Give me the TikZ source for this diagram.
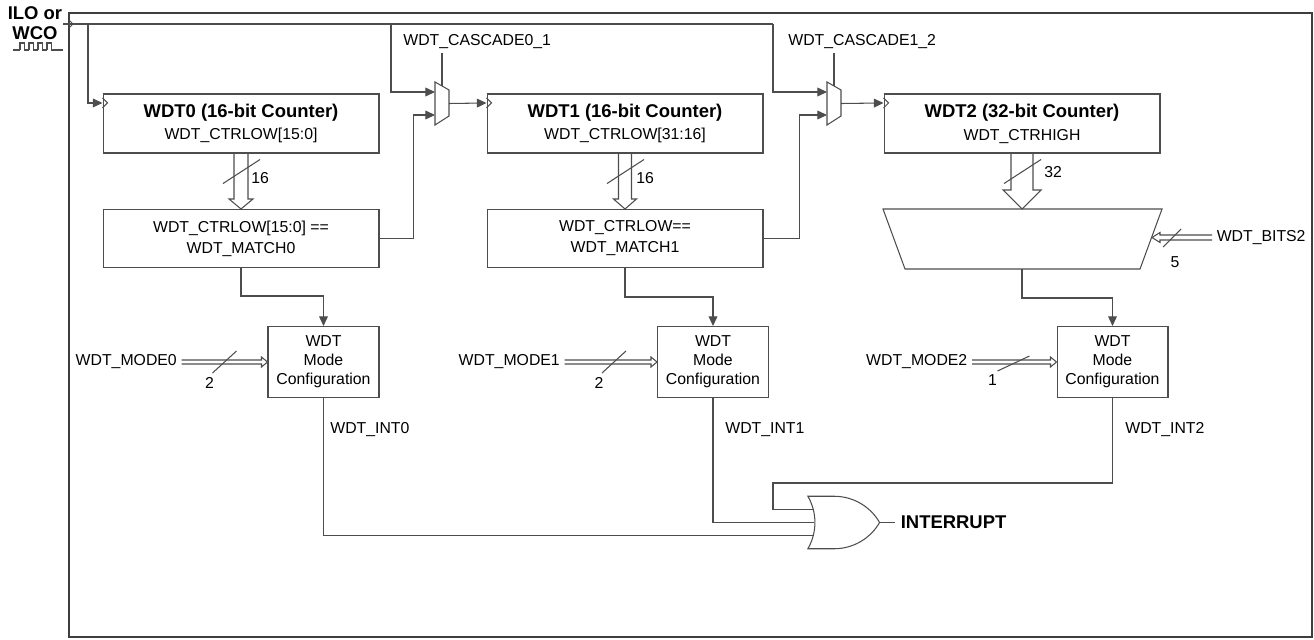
\documentclass[tikz,border=0pt]{standalone}
\usepackage{fontspec}
\setmainfont{Liberation Sans}
\usetikzlibrary{
    arrows.meta,
    calc,
    positioning,
    shapes.gates.logic.US
}
\definecolor{linegray}{HTML}{4D4D4D}
\tikzset{
    wire/.style={draw=linegray, line width=0.6pt},
    arr/.style={wire, -{Triangle[length=5.5pt, width=5pt]}},
    outline/.style={draw=linegray!80!black, line width=0.9pt},
    counter/.style={wire, minimum width=5.52cm, minimum height=1.18cm, align=center, inner sep=0pt},
    cmpbox/.style={wire, minimum width=5.52cm, minimum height=1.16cm, align=center, inner sep=0pt},
    modebox/.style={wire, minimum width=2.22cm, minimum height=1.42cm, align=center, inner sep=0pt, font=\fontsize{9}{10.8}\selectfont},
    lbl/.style={inner sep=0pt},
    blbl/.style={inner sep=0pt, font=\fontsize{10.5}{12}\selectfont\bfseries}
}
\newcommand{\vbus}[5]{%
    \draw[wire] ($(#1)+(-#3,0)$) -- ($(#2)+(-#3,-#5)$) -- ($(#2)+(-#4,-#5)$) -- (#2)
        -- ($(#2)+(#4,-#5)$) -- ($(#2)+(#3,-#5)$) -- ($(#1)+(#3,0)$);}
\newcommand{\hbus}[5]{%
    \draw[wire] ($(#1)+(0,-#3)$) -- ($(#2)+({-1*(#5)},-#3)$) -- ($(#2)+({-1*(#5)},-#4)$) -- (#2)
        -- ($(#2)+({-1*(#5)},#4)$) -- ($(#2)+({-1*(#5)},#3)$) -- ($(#1)+(0,#3)$);}

\begin{document}
\begin{tikzpicture}[x=0.02cm, y=-0.02cm, font=\fontsize{9}{11}\selectfont]
    \useasboundingbox (0,0) rectangle (1314,639);

    % outer frame and clock source
    \draw[outline] (69,13) rectangle (1312,637);
    \node[blbl] (ilo) at (35,13) {ILO or};
    \node[blbl] (wco) at (35,33) {WCO};
    \draw[wire] (13,50) -- (20,50);
    \foreach \k in {0,...,3}
        \draw[wire] (20+9*\k,50) -- (20+9*\k,43) -- (24.5+9*\k,43) -- (24.5+9*\k,50) -- (29+9*\k,50);
    \draw[wire] (56,50) -- (63,50);
    \coordinate (clkin) at (63,24);
    \coordinate (tap0) at (88,24);
    \coordinate (tap1) at (391,24);
    \coordinate (tap2) at (773,24);
    \draw[wire] (69,20) -- (73,24) -- (69,28);

    % counters
    \foreach \i/\x/\w/\reg in {0/241/16/WDT\_CTRLOW[15:0], 1/625/16/WDT\_CTRLOW[31:16], 2/1022/32/WDT\_CTRHIGH} {
        \node[counter] (cnt\i) at (\x,123.5) {{\fontsize{10.5}{12}\selectfont\bfseries WDT\i\ (\w-bit Counter)}\\[2pt]\reg};
        \coordinate (clk\i) at ($(cnt\i.north west)+(0,9.5)$);
        \draw[wire] ($(clk\i)+(0,-5)$) -- ++(5,5) -- ++(-5,5);
        \draw[wire] ($(cnt\i.south)+(-18,30)$) -- ($(cnt\i.south)+(19,6)$);
    }

    % compare and bit select
    \node[cmpbox] (cmp0) at (241,238.5) {WDT\_CTRLOW[15:0] ==\\[1pt]WDT\_MATCH0};
    \node[cmpbox] (cmp1) at (625,238.5) {WDT\_CTRLOW==\\[1pt]WDT\_MATCH1};
    \draw[wire] (883,209) -- (1162,209) -- (1140,269) -- (905,269) -- cycle;
    \coordinate (sel2top) at (1022,209);
    \coordinate (sel2bot) at (1022,269);
    \coordinate (sel2in) at (1152,237.5);

    \vbus{cnt0.south}{cmp0.north}{7}{12}{10}
    \vbus{cnt1.south}{cmp1.north}{6.5}{11.5}{10}
    \vbus{cnt2.south}{sel2top}{11}{19}{19}
    \node[lbl, anchor=west] (w0) at ($(cnt0.south)+(10,25)$) {16};
    \node[lbl, anchor=west] (w1) at ($(cnt1.south)+(11,25)$) {16};
    \node[lbl, anchor=west] (w2) at ($(cnt2.south)+(22,19)$) {32};

    \node[lbl, inner xsep=2.5pt, anchor=west] (bits2) at (1212,237.5) {WDT\_BITS2};
    \hbus{bits2.west}{sel2in}{2.5}{5}{-8}
    \draw[wire] (1163,247) -- (1181,229);
    \node[lbl] (b2) at (1175,262) {5};

    % muxes
    \foreach \n/\x in {0/435, 1/827} {
        \draw[wire] (\x,82) -- ++(14,8) -- ++(0,26) -- ++(-14,9) -- cycle;
        \coordinate (mux\n-a) at (\x,92);
        \coordinate (mux\n-b) at (\x,115);
        \coordinate (mux\n-o) at (\x+14,103.5);
        \coordinate (mux\n-s) at (\x+7,86);
    }
    \node[lbl, inner ysep=2pt, anchor=west] (cas0) at (403,42) {WDT\_CASCADE0\_1};
    \node[lbl, inner ysep=2pt, anchor=west] (cas1) at (788,42) {WDT\_CASCADE1\_2};
    \draw[wire] (mux0-s) -- (mux0-s |- cas0.south);
    \draw[wire] (mux1-s) -- (mux1-s |- cas1.south);

    % clock wiring
    \draw[wire] (clkin) -- (tap2);
    \draw[arr] (tap0) |- (clk0);
    \draw[arr] (tap1) |- (mux0-a);
    \draw[arr] (tap2) |- (mux1-a);
    \draw[arr] (mux0-o) -- (clk1);
    \draw[arr] (mux1-o) -- (clk2);
    \draw[arr] (cmp0.east) -- ++(34,0) |- (mux0-b);
    \draw[arr] (cmp1.east) -- ++(36,0) |- (mux1-b);

    % mode configuration
    \foreach \i/\x in {0/323.5, 1/713, 2/1112.5}
        \node[modebox] (mode\i) at (\x,362) {WDT\\Mode\\Configuration};
    \foreach \i/\d/\n in {0/1.72cm/2, 1/1.85cm/2, 2/1.69cm/1} {
        \node[lbl, inner xsep=2.5pt, left=\d of mode\i] (min\i) {WDT\_MODE\i};
        \hbus{min\i.east}{mode\i.west}{2}{5}{6}
    }
    \draw[wire] ($(mode0.west)+(-55,11)$) -- ($(mode0.west)+(-31,-11)$);
    \draw[wire] ($(mode1.west)+(-55,11)$) -- ($(mode1.west)+(-31,-11)$);
    \draw[wire] ($(mode2.west)+(-59,9)$) -- ($(mode2.west)+(-27,-6)$);
    \node[lbl] (mb0) at ($(mode0.west)+(-58,21)$) {2};
    \node[lbl] (mb1) at ($(mode1.west)+(-58,21)$) {2};
    \node[lbl] (mb2) at ($(mode2.west)+(-64,18)$) {1};
    \draw[arr] (cmp0.south) -- ++(0,28) -| (mode0.north);
    \draw[arr] (cmp1.south) -- ++(0,29) -| (mode1.north);
    \draw[arr] (sel2bot) -- ++(0,29) -| (mode2.north);

    % interrupt
    \node[or gate US, draw=linegray, line width=0.6pt, logic gate inputs=nnn,
        minimum width=1.3cm, minimum height=1.05cm] (orgate) at (838.5,522.5) {};
    \node[blbl, inner xsep=3pt, right=0.3cm of orgate] (intr) {INTERRUPT};
    \draw[wire] (orgate.output) -- (intr.west);
    \draw[wire] (mode0.south) |- (orgate.input 3);
    \draw[wire] (mode1.south) |- (orgate.input 2);
    \draw[wire] (mode2.south) |- (773,483) |- (orgate.input 1);
    \node[lbl, anchor=west] (int0) at (330,430) {WDT\_INT0};
    \node[lbl, anchor=west] (int1) at (725,430) {WDT\_INT1};
    \node[lbl, anchor=west] (int2) at (1125,430) {WDT\_INT2};
\end{tikzpicture}
\end{document}
